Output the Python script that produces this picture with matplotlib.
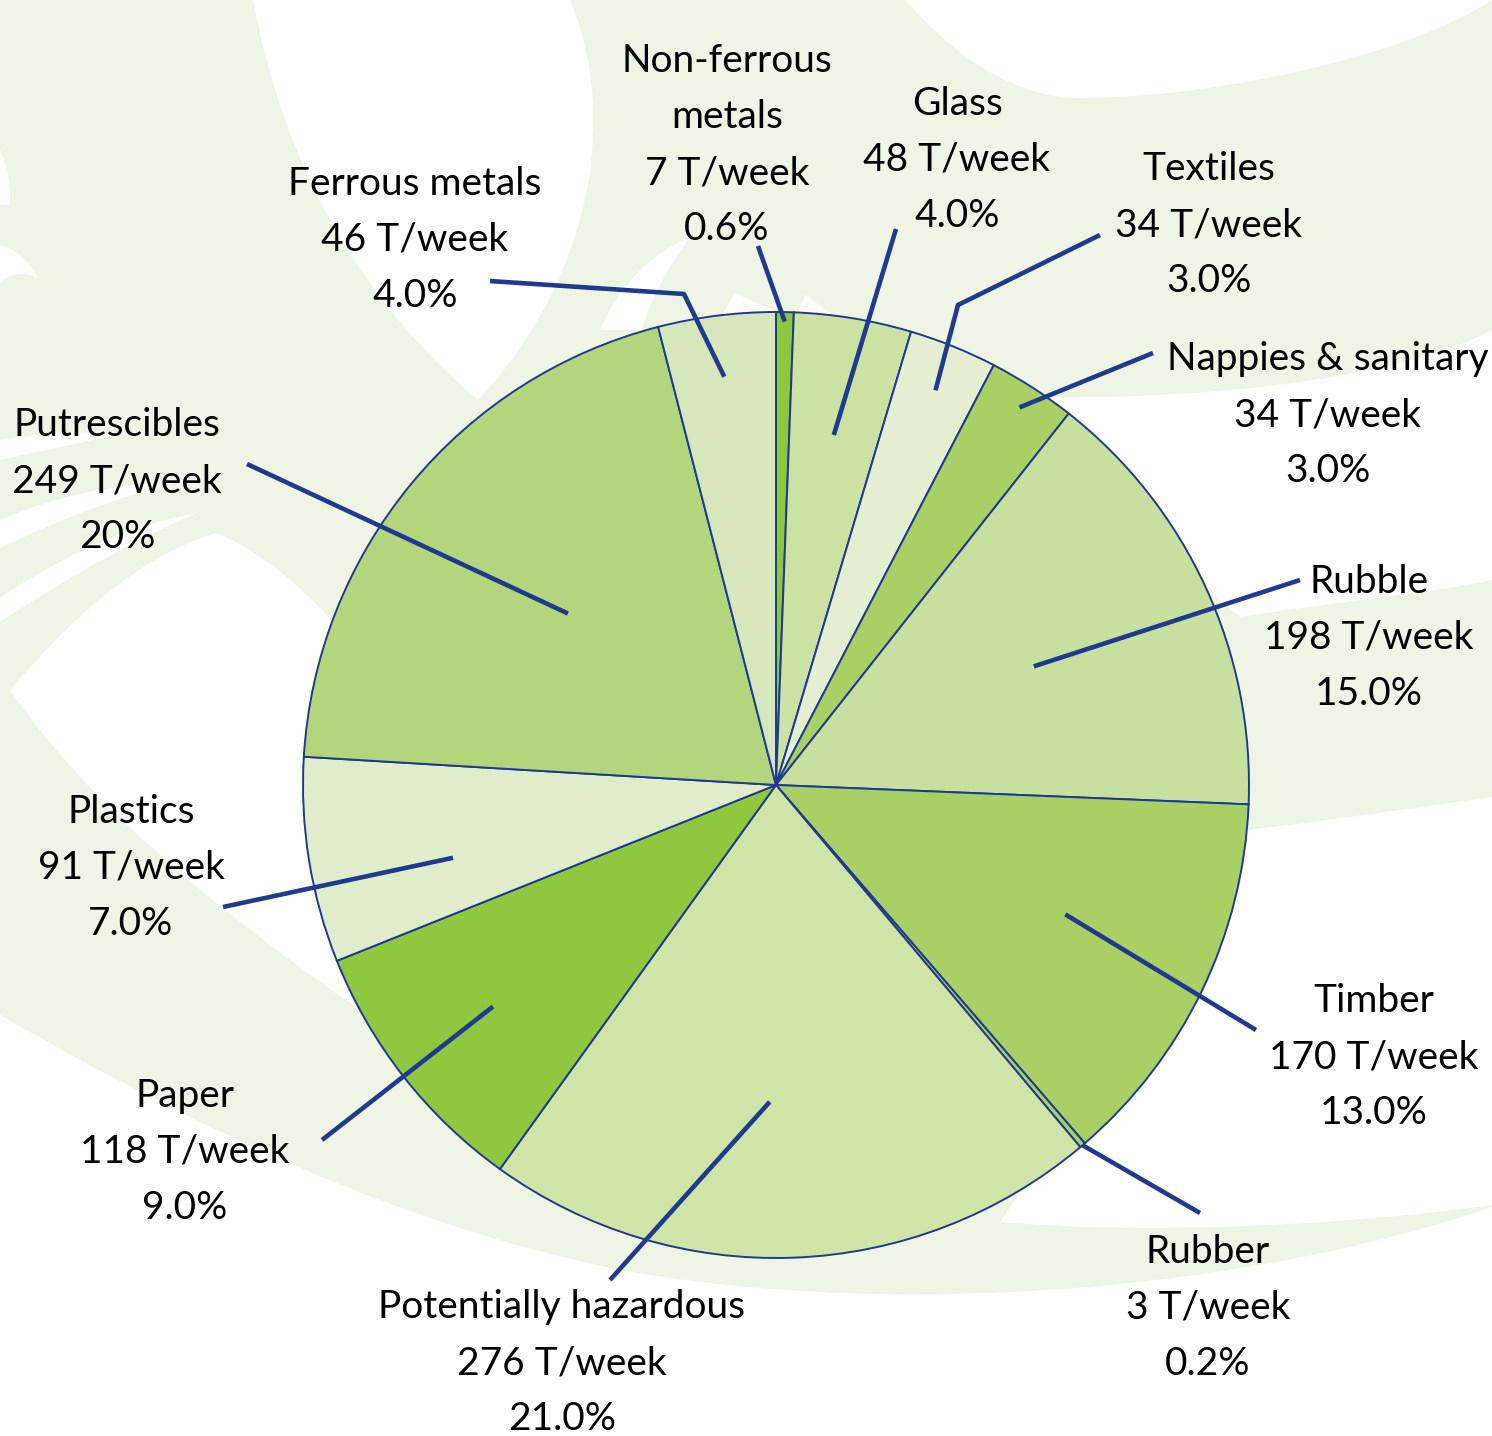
import matplotlib
matplotlib.use("Agg")
import numpy as np
import matplotlib.pyplot as plt
from matplotlib.path import Path
from matplotlib.patches import PathPatch

# waste composition, clockwise from the top of the pie
categories = ["Non-ferrous\nmetals", "Glass", "Textiles", "Nappies & sanitary", "Rubble",
              "Timber", "Rubber", "Potentially hazardous", "Paper", "Plastics",
              "Putrescibles", "Ferrous metals"]
tonnes = [7, 48, 34, 34, 198, 170, 3, 276, 118, 91, 249, 46]
shares = [0.6, 4.0, 3.0, 3.0, 15.0, 13.0, 0.2, 21.0, 9.0, 7.0, 20.0, 4.0]
share_labels = ["0.6%", "4.0%", "3.0%", "3.0%", "15.0%", "13.0%", "0.2%", "21.0%",
                "9.0%", "7.0%", "20%", "4.0%"]

colors = ["#8dc63f", "#cbe2a3", "#e4efd2", "#a8d065", "#c8e09f", "#a8d065",
          "#a8d065", "#cfe4a7", "#8fc73e", "#e0edcb", "#b3d67c", "#d6e8bb"]

# label block: x centre, y of first line (pixels from top)
label_pos = [(727, 57), (957, 100), (1209, 165), (1328, 355), (1369, 578), (1374, 997),
             (1208, 1248), (562, 1303), (185, 1092), (131, 808), (117, 421), (415, 180)]
# leader: start radius (fraction of pie radius), angle nudge (deg), points towards the label
leaders = [(0.98, 0, [(758, 246)]),
           (0.75, 0, [(896, 229)]),
           (0.90, 0, [(958, 305), (1100, 235)]),
           (0.95, 0, [(1153, 353)]),
           (0.60, 0, [(1300, 580)]),
           (0.67, -1.7, [(1256, 1030)]),
           (1.00, 0, [(1200, 1213)]),
           (0.67, 3.3, [(610, 1280)]),
           (0.76, 0, [(322, 1140)]),
           (0.70, -3.5, [(223, 907)]),
           (0.57, 0, [(247, 464)]),
           (0.87, 0, [(684, 294), (490, 281)])]

W, H = 1492, 1436
cx, cy, R = 776, 785, 473
navy = "#1f3a8f"
pale = "#eef5e4"

fig = plt.figure(figsize=(W / 100, H / 100), dpi=100)
fig.patch.set_facecolor(pale)
ax = fig.add_axes([0, 0, 1, 1])
ax.set_facecolor(pale)


def shape(cmds):
    verts, codes = [], []
    for c in cmds:
        if c[0] == "M":
            verts.append(c[1:]); codes.append(Path.MOVETO)
        elif c[0] == "L":
            verts.append(c[1:]); codes.append(Path.LINETO)
        elif c[0] == "Q":
            verts += [c[1:3], c[3:5]]; codes += [Path.CURVE3] * 2
        elif c[0] == "C":
            verts += [c[1:3], c[3:5], c[5:7]]; codes += [Path.CURVE4] * 3
    verts.append(verts[0]); codes.append(Path.CLOSEPOLY)
    return Path(verts, codes)


# white swooshes cut out of the pale green background
white_shapes = [
    [("M", 253, 0), ("Q", 300, 250, 478, 400), ("C", 590, 280, 620, 120, 570, 0)],
    [("M", 905, 0), ("C", 950, 50, 1000, 90, 1067, 98), ("C", 1200, 100, 1400, 60, 1492, 0)],
    [("M", 1492, 330), ("C", 1400, 380, 1200, 400, 1030, 397), ("L", 1100, 500),
     ("L", 1240, 617), ("C", 1350, 600, 1450, 590, 1492, 580)],
    [("M", 1492, 797), ("C", 1400, 810, 1300, 825, 1218, 833), ("L", 1150, 1000),
     ("L", 1000, 1222), ("C", 1150, 1235, 1350, 1225, 1492, 1205)],
    [("M", 0, 1015), ("C", 200, 1130, 400, 1225, 620, 1270),
     ("C", 900, 1320, 1250, 1290, 1492, 1207), ("L", 1492, H), ("L", 0, H)],
    [("M", 10, 690), ("Q", 120, 560, 217, 533), ("Q", 280, 560, 340, 630),
     ("L", 330, 900), ("L", 390, 1030), ("Q", 120, 850, 10, 690)],
    [("M", 0, 440), ("Q", 60, 430, 127, 433), ("Q", 60, 447, 0, 460)],
    [("M", 0, 520), ("Q", 80, 485, 173, 483), ("Q", 90, 505, 0, 548)],
    [("M", 0, 598), ("Q", 100, 530, 197, 513), ("Q", 110, 550, 0, 622)],
    [("M", 0, 150), ("Q", 12, 175, 10, 205), ("L", 0, 205)],
    [("M", 0, 245), ("Q", 25, 252, 38, 278), ("Q", 18, 268, 0, 282)],
    [("M", 600, 330), ("Q", 630, 262, 690, 237), ("Q", 652, 290, 642, 330)],
    [("M", 718, 322), ("L", 735, 293), ("L", 790, 318)],
    [("M", 792, 322), ("L", 806, 295), ("L", 842, 322)],
]
for s in white_shapes:
    ax.add_patch(PathPatch(shape(s), facecolor="white", edgecolor="none", zorder=0))

wedges, _ = ax.pie(shares, colors=colors, startangle=-90, counterclock=True,
                   center=(cx, cy), radius=R,
                   wedgeprops=dict(edgecolor=navy, linewidth=1.4))
for w in wedges:
    w.set_zorder(2)

for w, (rf, nudge, pts) in zip(wedges, leaders):
    a = np.deg2rad((w.theta1 + w.theta2) / 2 + nudge)
    xs = [cx + rf * R * np.cos(a)] + [p[0] for p in pts]
    ys = [cy + rf * R * np.sin(a)] + [p[1] for p in pts]
    ax.plot(xs, ys, color=navy, lw=3.3, solid_capstyle="butt", zorder=3)

font = ["Lato", "DejaVu Sans"]
pitch = 56
for name, t, sl, (lx, ly) in zip(categories, tonnes, share_labels, label_pos):
    lines = name.split("\n") + [f"{t} T/week", sl]
    for i, line in enumerate(lines):
        ax.text(lx, ly + 15 + i * pitch, line, ha="center", va="baseline",
                fontsize=28, family=font, color="black", zorder=4)

ax.set_xlim(0, W)
ax.set_ylim(H, 0)
ax.set_aspect("auto")
ax.axis("off")
fig.savefig("out.png", dpi=100, facecolor=fig.get_facecolor())
